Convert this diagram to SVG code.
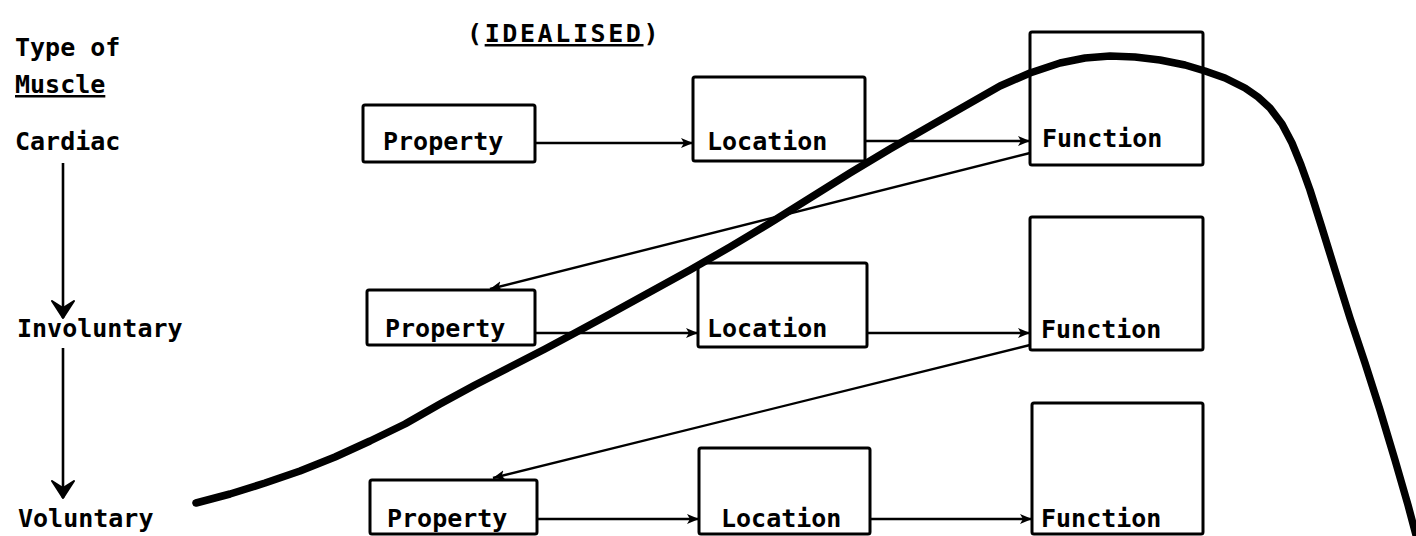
<svg xmlns="http://www.w3.org/2000/svg" width="1416" height="536" viewBox="0 0 1416 536">
<style>
.t{font-family:"DejaVu Sans Mono","Liberation Mono",monospace;font-weight:bold;font-size:25px;fill:#000}
.box{fill:none;stroke:#000;stroke-width:3;stroke-linejoin:round}
.c{fill:none;stroke:#000;stroke-width:2.4}
.v{fill:none;stroke:#000;stroke-width:2.6}
.u{text-decoration:underline}
</style>
<defs>
<marker id="ah" markerUnits="userSpaceOnUse" markerWidth="14" markerHeight="12" refX="12" refY="5" orient="auto">
<path d="M0,0 L12,5 L0,10 L3,5 z" fill="#000"/>
</marker>
<marker id="vh" markerUnits="userSpaceOnUse" markerWidth="24" markerHeight="26" refX="18" refY="12" orient="auto">
<path d="M18,12 L1,1 L8,12 L1,23 z" fill="#000" stroke="#000" stroke-width="2" stroke-linejoin="round"/>
</marker>
</defs>
<rect width="1416" height="536" fill="#fff"/>

<g id="labels">
<text class="t" x="15" y="56">Type of</text>
<text class="t" x="15" y="93"><tspan class="u">Muscle</tspan></text>
<text class="t" x="467" y="42" letter-spacing="2.6">(<tspan class="u">IDEALISED</tspan>)</text>
</g>

<g id="type-cardiac"><text class="t" x="15" y="150">Cardiac</text></g>
<g id="type-involuntary"><text class="t" x="17" y="337">Involuntary</text></g>
<g id="type-voluntary"><text class="t" x="18" y="527">Voluntary</text></g>

<g id="r1-property"><rect class="box" x="363" y="105" width="172" height="57" rx="2"/><text class="t" x="383" y="150">Property</text></g>
<g id="r1-location"><rect class="box" x="693" y="77" width="172" height="84" rx="2"/><text class="t" x="707" y="150">Location</text></g>
<g id="r1-function"><rect class="box" x="1030" y="32" width="173" height="133" rx="2"/><text class="t" x="1042" y="147">Function</text></g>

<g id="r2-property"><rect class="box" x="367" y="290" width="168" height="55" rx="2"/><text class="t" x="385" y="337">Property</text></g>
<g id="r2-location"><rect class="box" x="698" y="263" width="169" height="84" rx="2"/><text class="t" x="707" y="337">Location</text></g>
<g id="r2-function"><rect class="box" x="1030" y="217" width="173" height="133" rx="2"/><text class="t" x="1041" y="338">Function</text></g>

<g id="r3-property"><rect class="box" x="370" y="480" width="167" height="54" rx="2"/><text class="t" x="387" y="527">Property</text></g>
<g id="r3-location"><rect class="box" x="699" y="448" width="171" height="86" rx="2"/><text class="t" x="721" y="527">Location</text></g>
<g id="r3-function"><rect class="box" x="1032" y="403" width="171" height="131" rx="2"/><text class="t" x="1041" y="527">Function</text></g>

<g id="connectors">
<line class="v" x1="63" y1="163" x2="63" y2="318" marker-end="url(#vh)"/>
<line class="v" x1="63" y1="348" x2="63" y2="498" marker-end="url(#vh)"/>
<line class="c" x1="535" y1="143" x2="693" y2="143" marker-end="url(#ah)"/>
<line class="c" x1="865" y1="141" x2="1030" y2="141" marker-end="url(#ah)"/>
<line class="c" x1="535" y1="333" x2="698" y2="333" marker-end="url(#ah)"/>
<line class="c" x1="867" y1="333" x2="1030" y2="333" marker-end="url(#ah)"/>
<line class="c" x1="537" y1="519" x2="699" y2="519" marker-end="url(#ah)"/>
<line class="c" x1="870" y1="519" x2="1032" y2="519" marker-end="url(#ah)"/>
<line class="c" x1="1030" y1="153" x2="490" y2="289" marker-end="url(#ah)"/>
<line class="c" x1="1030" y1="345" x2="493" y2="478" marker-end="url(#ah)"/>
</g>

<g id="curve">
<path d="M196,503 L230,494 L265,483 L300,471 L335,457 L370,441 L405,424 L440,404 L475,385 L510,367 L545,349 L573,334 L610,314 L650,292 L690,270 L730,247 L770,223 L810,198 L850,173 L890,149 L930,126 L965,106 L1000,86 L1030,73 L1060,63 L1085,58 L1110,56 L1135,57 L1160,60 L1185,65 L1205,71 L1225,78 L1245,88 L1258,97 L1270,108 L1282,124 L1292,143 L1301,165 L1310,190 L1322,228 L1335,270 L1350,318 L1365,363 L1380,410 L1395,460 L1408,505 L1416,535" fill="none" stroke="#000" stroke-width="7.5" stroke-linejoin="round" stroke-linecap="round"/>
</g>
</svg>
